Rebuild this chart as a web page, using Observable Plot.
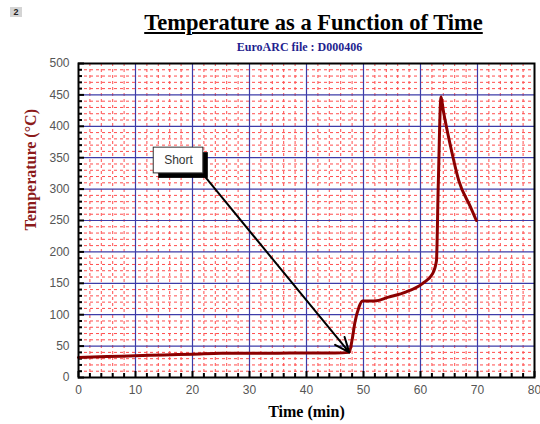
<!DOCTYPE html>
<html>
<head>
<meta charset="utf-8">
<script src="https://cdn.jsdelivr.net/npm/d3@7"></script>
<script src="https://cdn.jsdelivr.net/npm/@observablehq/plot@0.6"></script>
<style>
  html, body { margin: 0; padding: 0; background: #fff; }
  #page { position: relative; width: 540px; height: 424px; overflow: hidden; }
  #badge { position: absolute; left: 10px; top: 7px; width: 12px; height: 10px; background: #d4d4d4;
           font: bold 9px "Liberation Sans", Arial, sans-serif; color: #222; text-align: center; line-height: 10px; }
  #title { position: absolute; top: 12px; left: 0; width: 627px; text-align: center;
           font: bold 22.5px "Liberation Serif", "Times New Roman", serif; line-height: 22.5px;
           text-decoration: underline; text-decoration-thickness: 2px; text-underline-offset: 2px; color: #000; white-space: nowrap; }
  #subtitle { position: absolute; top: 41px; left: 0; width: 599px; text-align: center;
           font: bold 12px "Liberation Serif", "Times New Roman", serif; line-height: 12px; color: #1f1f8f; white-space: nowrap; }
  #chart { position: absolute; left: 0; top: 55px; }
</style>
</head>
<body>
<div id="page">
  <div id="badge">2</div>
  <div id="title">Temperature as a Function of Time</div>
  <div id="subtitle">EuroARC file : D000406</div>
  <div id="chart"></div>
</div>
<script>
// Data
const timeMin = [0, 5, 10, 15, 20, 25, 30, 35, 40, 45, 47.5, 48.0, 48.5, 49.2, 49.8, 52.0, 54.4, 57.4, 60.4, 62.1, 62.8, 63.1, 63.6, 64.0, 65.3, 66.7, 68.8, 69.8];
const tempC   = [32, 33.5, 34.5, 36, 37, 38.5, 38.7, 38.8, 39, 39, 40, 60, 88, 112, 122, 122, 128, 136, 150, 165, 186, 300, 447, 425, 367, 314, 271, 250];
const xTickLabels = [0, 10, 20, 30, 40, 50, 60, 70, 80];
const yTickLabels = [0, 50, 100, 150, 200, 250, 300, 350, 400, 450, 500];
const noteBox = [{x1: 13.2, x2: 21.9, y1: 325, y2: 366, label: "Short", cx: 17.55, cy: 345.5}];
const noteArrow = [{x1: 22.3, y1: 318.5, x2: 47.5, y2: 40}];

const series = timeMin.map((t, i) => ({t, T: tempC[i]}));
const minorX = d3.range(0, 81, 2).filter(v => v % 10 !== 0);
const minorY = d3.range(0, 501, 10).filter(v => v % 50 !== 0);
const majorX = xTickLabels.filter(v => v > 0 && v < 80);
const majorY = yTickLabels.filter(v => v > 0 && v < 500);

const tickFont = {fontSize: 12, fontFamily: "'Liberation Sans', Arial, sans-serif", fill: "#555"};

const chart = Plot.plot({
  width: 540,
  height: 369,
  marginTop: 8,
  marginBottom: 47,
  marginLeft: 78,
  marginRight: 6,
  x: {domain: [0, 80]},
  y: {domain: [0, 500]},
  style: {background: "white"},
  marks: [
    Plot.ruleX(minorX, {stroke: "#ff4d4d", strokeWidth: 1, strokeDasharray: "3,3"}),
    Plot.ruleY(minorY, {stroke: "#ff4d4d", strokeWidth: 1, strokeDasharray: "3,3"}),
    Plot.ruleX(majorX, {stroke: "#3c3ca8", strokeWidth: 1.2}),
    Plot.ruleY(majorY, {stroke: "#3c3ca8", strokeWidth: 1.2}),
    Plot.axisX(minorX, {tickSize: -4, tickFormat: () => "", strokeWidth: 2, label: null}),
    Plot.axisX(xTickLabels, {tickSize: -6, tickFormat: () => "", strokeWidth: 2, label: null}),
    Plot.axisY(minorY, {tickSize: -4, tickFormat: () => "", strokeWidth: 2, label: null}),
    Plot.axisY(yTickLabels, {tickSize: -6, tickFormat: () => "", strokeWidth: 2, label: null}),
    Plot.axisX(xTickLabels, {tickSize: 0, tickPadding: 8, label: null, ...tickFont}),
    Plot.axisY(yTickLabels, {tickSize: 0, tickPadding: 9, label: null, ...tickFont}),
    Plot.line(series, {x: "t", y: "T", curve: "monotone-x", stroke: "#8b0000", strokeWidth: 3, strokeLinejoin: "round", strokeLinecap: "round"}),
    Plot.frame({stroke: "black", strokeWidth: 2}),
    Plot.arrow(noteArrow, {x1: "x1", y1: "y1", x2: "x2", y2: "y2", stroke: "black", strokeWidth: 2, headLength: 12, headAngle: 45}),
    Plot.rect(noteBox, {x1: "x1", x2: "x2", y1: "y1", y2: "y2", fill: "black", dx: 5, dy: 5}),
    Plot.rect(noteBox, {x1: "x1", x2: "x2", y1: "y1", y2: "y2", fill: "white", stroke: "#333", strokeWidth: 1}),
    Plot.text(noteBox, {x: "cx", y: "cy", text: "label", fontSize: 12, fill: "#333", fontFamily: "'Liberation Sans', Arial, sans-serif"}),
    Plot.text(["Time (min)"], {frameAnchor: "bottom", text: d => d, lineAnchor: "top", dy: 28, fontSize: 16, fontWeight: "bold", fontFamily: "'Liberation Serif', 'Times New Roman', serif", fill: "black"}),
    Plot.text(["Temperature (°C)"], {frameAnchor: "left", text: d => d, rotate: -90, dx: -48, dy: 10, fontSize: 16, fontWeight: "bold", fontFamily: "'Liberation Serif', 'Times New Roman', serif", fill: "#8b1a1a"})
  ]
});
document.getElementById("chart").appendChild(chart);
</script>
</body>
</html>
